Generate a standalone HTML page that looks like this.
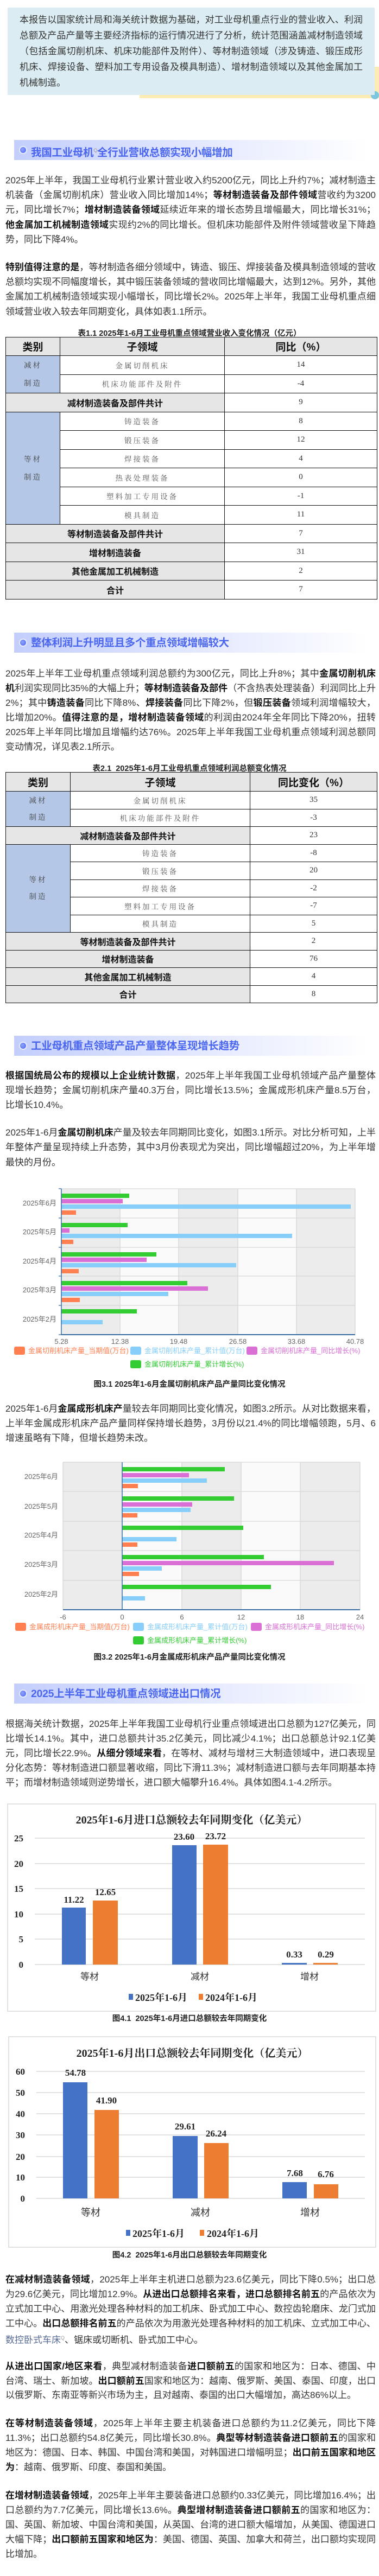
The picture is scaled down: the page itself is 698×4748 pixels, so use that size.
<!DOCTYPE html>
<html><head><meta charset="utf-8">
<style>
*{margin:0;padding:0;box-sizing:border-box}
body{width:698px;height:4748px;position:relative;background:#fff;font-family:"Liberation Sans","Noto Sans CJK SC",sans-serif;color:#333;overflow:hidden}
.l{position:absolute;left:10px;width:682px;height:27px;line-height:27px;font-size:17px;text-align:justify;text-align-last:justify;overflow:hidden}
b{color:#111;font-weight:bold}
.il{position:absolute;left:36px;width:632px;height:29px;line-height:29px;font-size:17px;text-align:justify;text-align-last:justify;color:#333}
.e{text-align-last:left !important}
.h{position:absolute;left:26px;width:652px;height:37px;background:linear-gradient(90deg,#c3cefc 0%,#dfe5fd 45%,#f3f5ff 80%,#fff 100%)}
.h .d{position:absolute;left:11px;top:13px;width:11px;height:11px;border-radius:50%;background:radial-gradient(circle at 40% 40%,#8fa3ff,#4a64f0);box-shadow:0 0 0 2px #e9edff}
.h .t{position:absolute;left:31px;top:0;line-height:39px;font-size:19.5px;font-weight:bold;color:#4a66ee;letter-spacing:-0.3px}
.cap{position:absolute;left:0;width:698px;text-align:center;font-weight:bold;color:#222;font-size:14.5px}
table{position:absolute;border-collapse:collapse;left:10px;table-layout:fixed}
td{border:1.3px solid #111;text-align:center;vertical-align:middle;padding:0}
.hd td{background:#e6e6e6;font-weight:bold;font-size:19px;color:#111}
.sg{font-family:"Liberation Serif","Noto Serif CJK SC",serif;color:#555;font-size:13.5px;letter-spacing:3px}
.nv{font-family:"Liberation Serif",serif;font-size:15px;color:#333}
.cat{background:#b4c7e7;font-family:"Liberation Serif","Noto Serif CJK SC",serif;color:#444;font-size:13.5px;letter-spacing:3px}
.gr{background:#e6e6e6;font-weight:bold;font-size:16px;color:#111}
svg text{font-family:"Liberation Sans","Noto Sans CJK SC",sans-serif}
.sf{font-family:"Liberation Serif","Noto Serif CJK SC",serif !important;font-weight:bold}
</style></head><body>

<div style="position:absolute;left:257px;top:123px;width:441px;height:58px;background:#fcecb4"></div>
<div style="position:absolute;left:683px;top:168px;width:15px;height:15px;border-radius:50%;background:#7cc6df"></div>
<div style="position:absolute;left:14px;top:14px;width:676px;height:161px;background:#dbedf3"></div>
<div class="il" style="top:22px">本报告以国家统计局和海关统计数据为基础，对工业母机重点行业的营业收入、利润</div>
<div class="il" style="top:51px">总额及产品产量等主要经济指标的运行情况进行了分析，统计范围涵盖减材制造领域</div>
<div class="il" style="top:80px">（包括金属切削机床、机床功能部件及附件）、等材制造领域（涉及铸造、锻压成形</div>
<div class="il" style="top:109px">机床、焊接设备、塑料加工专用设备及模具制造）、增材制造领域以及其他金属加工</div>
<div class="il e" style="top:138px">机械制造。</div>

<div class="h" style="top:258px"><div class="d"></div><div class="t">我国工业母机<sup style="font-size:9px;color:#999;font-weight:normal">Q</sup>全行业营收总额实现小幅增加</div></div>

<div class="l" style="top:319px">2025年上半年，我国工业母机行业累计营业收入约5200亿元，同比上升约7%；减材制造主</div>
<div class="l" style="top:346px">机装备（金属切削机床）营业收入同比增加14%；<b>等材制造装备及部件领域</b>营收约为3200亿</div>
<div class="l" style="top:373px">元，同比增长7%；<b>增材制造装备领域</b>延续近年来的增长态势且增幅最大，同比增长31%；<b>其</b></div>
<div class="l" style="top:401px"><b>他金属加工机械制造领域</b>实现约2%的同比增长。但机床功能部件及附件领域营收呈下降趋</div>
<div class="l e" style="top:428px">势，同比下降4%。</div>

<div class="l" style="top:479px"><b>特别值得注意的是</b>，等材制造各细分领域中，铸造、锻压、焊接装备及模具制造领域的营收</div>
<div class="l" style="top:506px">总额均实现不同幅度增长，其中锻压装备领域的营收同比增幅最大，达到12%。另外，其他</div>
<div class="l" style="top:533px">金属加工机械制造领域实现小幅增长，同比增长2%。2025年上半年，我国工业母机重点细分</div>
<div class="l e" style="top:561px">领域营业收入较去年同期变化，具体如表1.1所示。</div>

<div class="cap" style="top:603px">表1.1 2025年1-6月工业母机重点领域营业收入变化情况（亿元）</div>
<table style="top:621px;width:684px">
<colgroup><col style="width:100px"><col style="width:303px"><col style="width:281px"></colgroup>
<tr class="hd" style="height:34px"><td>类别</td><td>子领域</td><td>同比（%）</td></tr>
<tr style="height:34.5px"><td class="cat" rowspan="2" style="line-height:33px">减材<br>制造</td><td class="sg">金属切削机床</td><td class="nv">14</td></tr>
<tr style="height:34.5px"><td class="sg">机床功能部件及附件</td><td class="nv">-4</td></tr>
<tr style="height:34.5px"><td class="gr" colspan="2">减材制造装备及部件共计</td><td class="nv">9</td></tr>
<tr style="height:34.5px"><td class="cat" rowspan="6" style="line-height:33px">等材<br>制造</td><td class="sg">铸造装备</td><td class="nv">8</td></tr>
<tr style="height:34.5px"><td class="sg">锻压装备</td><td class="nv">12</td></tr>
<tr style="height:34.5px"><td class="sg">焊接装备</td><td class="nv">4</td></tr>
<tr style="height:34.5px"><td class="sg">热表处理装备</td><td class="nv">0</td></tr>
<tr style="height:34.5px"><td class="sg">塑料加工专用设备</td><td class="nv">-1</td></tr>
<tr style="height:34.5px"><td class="sg">模具制造</td><td class="nv">11</td></tr>
<tr style="height:34.5px"><td class="gr" colspan="2">等材制造装备及部件共计</td><td class="nv">7</td></tr>
<tr style="height:34.5px"><td class="gr" colspan="2">增材制造装备</td><td class="nv">31</td></tr>
<tr style="height:34.5px"><td class="gr" colspan="2">其他金属加工机械制造</td><td class="nv">2</td></tr>
<tr style="height:34.5px"><td class="gr" colspan="2">合计</td><td class="nv">7</td></tr>
</table>

<div class="h" style="top:1166px"><div class="d"></div><div class="t">整体利润上升明显且多个重点领域增幅较大</div></div>

<div class="l" style="top:1228px">2025年上半年工业母机重点领域利润总额约为300亿元，同比上升8%；其中<b>金属切削机床主</b></div>
<div class="l" style="top:1255px"><b>机</b>利润实现同比35%的大幅上升；<b>等材制造装备及部件</b>（不含热表处理装备）利润同比上升</div>
<div class="l" style="top:1282px">2%；其中<b>铸造装备</b>同比下降8%、<b>焊接装备</b>同比下降2%，但<b>锻压装备</b>领域利润增幅较大，同</div>
<div class="l" style="top:1309px">比增加20%。<b>值得注意的是，增材制造装备领域</b>的利润由2024年全年同比下降20%，扭转为</div>
<div class="l" style="top:1336px">2025年上半年同比增加且增幅约达76%。2025年上半年我国工业母机重点领域利润总额同比</div>
<div class="l e" style="top:1363px">变动情况，详见表2.1所示。</div>

<div class="cap" style="top:1405px">表2.1&nbsp; 2025年1-6月工业母机重点领域利润总额变化情况</div>
<table style="top:1423px;width:684px">
<colgroup><col style="width:119px"><col style="width:331px"><col style="width:234px"></colgroup>
<tr class="hd" style="height:35px"><td>类别</td><td>子领域</td><td>同比变化（%）</td></tr>
<tr style="height:32.5px"><td class="cat" rowspan="2" style="line-height:31px">减材<br>制造</td><td class="sg">金属切削机床</td><td class="nv">35</td></tr>
<tr style="height:32.5px"><td class="sg">机床功能部件及附件</td><td class="nv">-3</td></tr>
<tr style="height:32.5px"><td class="gr" colspan="2">减材制造装备及部件共计</td><td class="nv">23</td></tr>
<tr style="height:32.5px"><td class="cat" rowspan="5" style="line-height:31px">等材<br>制造</td><td class="sg">铸造装备</td><td class="nv">-8</td></tr>
<tr style="height:32.5px"><td class="sg">锻压装备</td><td class="nv">20</td></tr>
<tr style="height:32.5px"><td class="sg">焊接装备</td><td class="nv">-2</td></tr>
<tr style="height:32.5px"><td class="sg">塑料加工专用设备</td><td class="nv">-7</td></tr>
<tr style="height:32.5px"><td class="sg">模具制造</td><td class="nv">5</td></tr>
<tr style="height:32.5px"><td class="gr" colspan="2">等材制造装备及部件共计</td><td class="nv">2</td></tr>
<tr style="height:32.5px"><td class="gr" colspan="2">增材制造装备</td><td class="nv">76</td></tr>
<tr style="height:32.5px"><td class="gr" colspan="2">其他金属加工机械制造</td><td class="nv">4</td></tr>
<tr style="height:32.5px"><td class="gr" colspan="2">合计</td><td class="nv">8</td></tr>
</table>

<div class="h" style="top:1909px"><div class="d"></div><div class="t">工业母机重点领域产品产量整体呈现增长趋势</div></div>

<div class="l" style="top:1969px"><b>根据国统局公布的规模以上企业统计数据</b>，2025年上半年我国工业母机领域产品产量整体呈</div>
<div class="l" style="top:1996px">现增长趋势；金属切削机床产量40.3万台，同比增长13.5%；金属成形机床产量8.5万台，同</div>
<div class="l e" style="top:2023px">比增长10.4%。</div>

<div class="l" style="top:2074px">2025年1-6月<b>金属切削机床</b>产量及较去年同期同比变化，如图3.1所示。对比分析可知，上半</div>
<div class="l" style="top:2101px">年整体产量呈现持续上升态势，其中3月份表现尤为突出，同比增幅超过20%，为上半年增长</div>
<div class="l e" style="top:2129px">最快的月份。</div>

<div class="cap" style="top:2540px">图3.1 2025年1-6月金属切削机床产品产量同比变化情况</div>

<div class="l" style="top:2583px">2025年1-6月<b>金属成形机床产</b>量较去年同期同比变化情况，如图3.2所示。从对比数据来看，</div>
<div class="l" style="top:2610px">上半年金属成形机床产品产量同样保持增长趋势，3月份以21.4%的同比增幅领跑，5月、6月</div>
<div class="l e" style="top:2637px">增速虽略有下降，但增长趋势未改。</div>

<div class="cap" style="top:3043px">图3.2 2025年1-6月金属成形机床产品产量同比变化情况</div>

<div class="h" style="top:3103px"><div class="d"></div><div class="t">2025上半年工业母机重点领域进出口情况</div></div>

<div class="l" style="top:3164px">根据海关统计数据，2025年上半年我国工业母机行业重点领域进出口总额为127亿美元，同</div>
<div class="l" style="top:3191px">比增长14.1%。其中，进口总额共计35.2亿美元，同比减少4.1%；出口总额总计92.1亿美</div>
<div class="l" style="top:3218px">元，同比增长22.9%。<b>从细分领域来看</b>，在等材、减材与增材三大制造领域中，进口表现呈</div>
<div class="l" style="top:3245px">分化态势：等材制造进口额显著收缩，同比下滑11.3%；减材制造进口额与去年同期基本持</div>
<div class="l e" style="top:3272px">平；而增材制造领域则逆势增长，进口额大幅攀升16.4%。具体如图4.1-4.2所示。</div>

<div class="cap" style="top:3709px">图4.1&nbsp; 2025年1-6月进口总额较去年同期变化</div>
<div class="cap" style="top:4145px">图4.2&nbsp; 2025年1-6月出口总额较去年同期变化</div>

<div class="l" style="top:4188px"><b>在减材制造装备领域</b>，2025年上半年主机进口总额为23.6亿美元，同比下降0.5%；出口总额</div>
<div class="l" style="top:4215px">为29.6亿美元，同比增加12.9%。<b>从进出口总额排名来看，进口总额排名前五</b>的产品依次为</div>
<div class="l" style="top:4242px">立式加工中心、用激光处理各种材料的加工机床、卧式加工中心、数控齿轮磨床、龙门式加</div>
<div class="l" style="top:4269px">工中心。<b>出口总额排名前五</b>的产品依次为用激光处理各种材料的加工机床、立式加工中心、</div>
<div class="l e" style="top:4296px"><span style="color:#576b95">数控卧式车床</span><sup style="font-size:9px;color:#999">Q</sup>、锯床或切断机、卧式加工中心。</div>

<div class="l" style="top:4348px"><b>从进出口国家/地区来看</b>，典型减材制造装备<b>进口额前五</b>的国家和地区为：日本、德国、中国</div>
<div class="l" style="top:4375px">台湾、瑞士、新加坡。<b>出口额前五</b>国家和地区为：越南、俄罗斯、美国、泰国、印度，出口</div>
<div class="l e" style="top:4401px">以俄罗斯、东南亚等新兴市场为主，且对越南、泰国的出口大幅增加，高达86%以上。</div>

<div class="l" style="top:4453px"><b>在等材制造装备领域</b>，2025年上半年主要主机装备进口总额约为11.2亿美元，同比下降</div>
<div class="l" style="top:4480px">11.3%；出口总额约54.8亿美元，同比增长30.8%。<b>典型等材制造装备进口额前五</b>的国家和</div>
<div class="l" style="top:4507px">地区为：德国、日本、韩国、中国台湾和美国，对韩国进口增幅明显；<b>出口前五国家和地区</b></div>
<div class="l e" style="top:4534px"><b>为</b>：越南、俄罗斯、印度、泰国和美国。</div>

<div class="l" style="top:4586px"><b>在增材制造装备领域</b>，2025年上半年主要装备进口总额约0.33亿美元，同比增加16.4%；出</div>
<div class="l" style="top:4613px">口总额约为7.7亿美元，同比增长13.6%。<b>典型增材制造装备进口额前五</b>的国家和地区为：德</div>
<div class="l" style="top:4640px">国、英国、新加坡、中国台湾和美国，从英国、台湾的进口额大幅增加，从美国、德国进口</div>
<div class="l" style="top:4667px">大幅下降；<b>出口额前五国家和地区为</b>：美国、德国、英国、加拿大和荷兰，出口额均实现同</div>
<div class="l e" style="top:4694px">比增加。</div>

<svg style="position:absolute;left:0;top:0" width="698" height="4748" xmlns="http://www.w3.org/2000/svg">
<g>
<rect x="113" y="2191" width="108" height="269" fill="#ececec"/>
<rect x="221" y="2191" width="108" height="269" fill="#fafafa"/>
<rect x="329" y="2191" width="109" height="269" fill="#ececec"/>
<rect x="438" y="2191" width="108" height="269" fill="#fafafa"/>
<rect x="546" y="2191" width="108" height="269" fill="#ececec"/>
<g stroke="#d6d6d6" stroke-width="1.3">
<line x1="113" y1="2191" x2="654" y2="2191"/><line x1="113" y1="2245" x2="654" y2="2245"/><line x1="113" y1="2299" x2="654" y2="2299"/><line x1="113" y1="2352" x2="654" y2="2352"/><line x1="113" y1="2406" x2="654" y2="2406"/>
<line x1="221" y1="2191" x2="221" y2="2460"/><line x1="329" y1="2191" x2="329" y2="2460"/><line x1="438" y1="2191" x2="438" y2="2460"/><line x1="546" y1="2191" x2="546" y2="2460"/><line x1="654" y1="2191" x2="654" y2="2460"/>
</g>
<g fill="#33cc33"><rect x="113" y="2200" width="125" height="8"/><rect x="113" y="2254" width="122" height="8"/><rect x="113" y="2308" width="175" height="8"/><rect x="113" y="2361" width="232" height="8"/><rect x="113" y="2413" width="139" height="8"/></g>
<g fill="#da70d6"><rect x="113" y="2210" width="113" height="8"/><rect x="113" y="2264" width="15" height="8"/><rect x="113" y="2318" width="157" height="8"/><rect x="113" y="2371" width="270" height="8"/></g>
<g fill="#87cefa"><rect x="113" y="2220" width="533" height="8"/><rect x="113" y="2274" width="425" height="8"/><rect x="113" y="2328" width="322" height="8"/><rect x="113" y="2381" width="197" height="8"/><rect x="113" y="2433" width="76" height="8"/></g>
<g fill="#ff7f50"><rect x="113" y="2231" width="27" height="8"/><rect x="113" y="2285" width="22" height="8"/><rect x="113" y="2339" width="32" height="8"/><rect x="113" y="2392" width="34" height="8"/></g>
<line x1="113" y1="2191" x2="113" y2="2460" stroke="#3a6ea5" stroke-width="1.5"/>
<line x1="113" y1="2460" x2="654" y2="2460" stroke="#3a6ea5" stroke-width="2"/>
<g stroke="#3a6ea5" stroke-width="1.3"><line x1="108" y1="2191" x2="113" y2="2191"/><line x1="108" y1="2245" x2="113" y2="2245"/><line x1="108" y1="2299" x2="113" y2="2299"/><line x1="108" y1="2352" x2="113" y2="2352"/><line x1="108" y1="2406" x2="113" y2="2406"/><line x1="108" y1="2460" x2="113" y2="2460"/></g>
<g font-size="13" fill="#666" text-anchor="end"><text x="104" y="2222">2025年6月</text><text x="104" y="2275">2025年5月</text><text x="104" y="2329">2025年4月</text><text x="104" y="2382">2025年3月</text><text x="104" y="2436">2025年2月</text></g>
<g font-size="13" fill="#666" text-anchor="middle"><text x="113" y="2477">5.28</text><text x="221" y="2477">12.38</text><text x="329" y="2477">19.48</text><text x="438" y="2477">26.58</text><text x="546" y="2477">33.68</text><text x="654" y="2477">40.78</text></g>
<rect x="26" y="2482" width="20" height="15" rx="3" fill="#ff7f50"/><text x="52" y="2494" font-size="13" fill="#ff7f50">金属切削机床产量_当期值(万台)</text>
<rect x="240" y="2482" width="20" height="15" rx="3" fill="#87cefa"/><text x="266" y="2494" font-size="13" fill="#87cefa">金属切削机床产量_累计值(万台)</text>
<rect x="454" y="2482" width="20" height="15" rx="3" fill="#da70d6"/><text x="480" y="2494" font-size="13" fill="#da70d6">金属切削机床产量_同比增长(%)</text>
<rect x="240" y="2507" width="20" height="15" rx="3" fill="#33cc33"/><text x="266" y="2519" font-size="13" fill="#33cc33">金属切削机床产量_累计增长(%)</text>
</g>

<g>
<rect x="116" y="2695" width="109" height="272" fill="#ececec"/>
<rect x="225" y="2695" width="110" height="272" fill="#fafafa"/>
<rect x="335" y="2695" width="109" height="272" fill="#ececec"/>
<rect x="444" y="2695" width="109" height="272" fill="#fafafa"/>
<rect x="553" y="2695" width="110" height="272" fill="#ececec"/>
<g stroke="#d6d6d6" stroke-width="1.3">
<line x1="116" y1="2695" x2="663" y2="2695"/><line x1="116" y1="2749" x2="663" y2="2749"/><line x1="116" y1="2804" x2="663" y2="2804"/><line x1="116" y1="2858" x2="663" y2="2858"/><line x1="116" y1="2913" x2="663" y2="2913"/>
<line x1="116" y1="2695" x2="116" y2="2967"/><line x1="335" y1="2695" x2="335" y2="2967"/><line x1="444" y1="2695" x2="444" y2="2967"/><line x1="553" y1="2695" x2="553" y2="2967"/><line x1="663" y1="2695" x2="663" y2="2967"/>
</g>
<g fill="#33cc33"><rect x="225" y="2704" width="189" height="8"/><rect x="225" y="2758" width="206" height="8"/><rect x="225" y="2812" width="223" height="8"/><rect x="225" y="2866" width="261" height="8"/><rect x="225" y="2921" width="274" height="8"/></g>
<g fill="#da70d6"><rect x="225" y="2715" width="123" height="8"/><rect x="225" y="2769" width="129" height="8"/><rect x="225" y="2877" width="390" height="8"/></g>
<g fill="#87cefa"><rect x="225" y="2725" width="156" height="8"/><rect x="225" y="2779" width="126" height="8"/><rect x="225" y="2833" width="100" height="8"/><rect x="225" y="2887" width="73" height="8"/><rect x="225" y="2942" width="42" height="8"/></g>
<g fill="#ff7f50"><rect x="225" y="2735" width="29" height="8"/><rect x="225" y="2789" width="28" height="8"/><rect x="225" y="2843" width="28" height="8"/><rect x="225" y="2897" width="31" height="8"/></g>
<line x1="225" y1="2695" x2="225" y2="2967" stroke="#3a6ea5" stroke-width="1.5"/>
<line x1="116" y1="2967" x2="663" y2="2967" stroke="#3a6ea5" stroke-width="2"/>
<g font-size="13" fill="#666" text-anchor="end"><text x="107" y="2726">2025年6月</text><text x="107" y="2781">2025年5月</text><text x="107" y="2834">2025年4月</text><text x="107" y="2888">2025年3月</text><text x="107" y="2943">2025年2月</text></g>
<g font-size="13" fill="#666" text-anchor="middle"><text x="116" y="2985">-6</text><text x="225" y="2985">0</text><text x="335" y="2985">6</text><text x="444" y="2985">12</text><text x="553" y="2985">18</text><text x="663" y="2985">24</text></g>
<rect x="28" y="2991" width="20" height="15" rx="3" fill="#ff7f50"/><text x="54" y="3003" font-size="13" fill="#ff7f50">金属成形机床产量_当期值(万台)</text>
<rect x="245" y="2991" width="20" height="15" rx="3" fill="#87cefa"/><text x="271" y="3003" font-size="13" fill="#87cefa">金属成形机床产量_累计值(万台)</text>
<rect x="462" y="2991" width="20" height="15" rx="3" fill="#da70d6"/><text x="488" y="3003" font-size="13" fill="#da70d6">金属成形机床产量_同比增长(%)</text>
<rect x="245" y="3016" width="20" height="15" rx="3" fill="#33cc33"/><text x="271" y="3028" font-size="13" fill="#33cc33">金属成形机床产量_累计增长(%)</text>
</g>

<g>
<rect x="14" y="3325" width="678" height="382" fill="#fff" stroke="#d9d9d9" stroke-width="1.5"/>
<text class="sf" x="353" y="3361" font-size="20" fill="#222" text-anchor="middle">2025年1-6月进口总额较去年同期变化（亿美元）</text>
<g stroke="#d9d9d9" stroke-width="1.5"><line x1="64" y1="3388" x2="672" y2="3388"/><line x1="64" y1="3435" x2="672" y2="3435"/><line x1="64" y1="3481" x2="672" y2="3481"/><line x1="64" y1="3528" x2="672" y2="3528"/><line x1="64" y1="3574" x2="672" y2="3574"/><line x1="64" y1="3621" x2="672" y2="3621"/></g>
<g font-size="17" fill="#222" text-anchor="end"><text class="sf" x="43" y="3394">25</text><text class="sf" x="43" y="3441">20</text><text class="sf" x="43" y="3487">15</text><text class="sf" x="43" y="3534">10</text><text class="sf" x="43" y="3580">5</text><text class="sf" x="43" y="3627">0</text></g>
<g fill="#4472c4"><rect x="114" y="3516" width="44" height="105"/><rect x="317" y="3401" width="45" height="220"/><rect x="519" y="3618" width="46" height="3"/></g>
<g fill="#ed7d31"><rect x="171" y="3503" width="46" height="118"/><rect x="374" y="3400" width="46" height="221"/><rect x="577" y="3618" width="45" height="3"/></g>
<g font-size="17" fill="#222" text-anchor="middle"><text class="sf" x="136" y="3507">11.22</text><text class="sf" x="194" y="3493">12.65</text><text class="sf" x="339" y="3391">23.60</text><text class="sf" x="397" y="3390">23.72</text><text class="sf" x="542" y="3608">0.33</text><text class="sf" x="600" y="3608">0.29</text></g>
<g font-size="17" fill="#333" text-anchor="middle"><text x="165" y="3649" font-family="Liberation Serif,Noto Serif CJK SC,serif">等材</text><text x="368" y="3649" font-family="Liberation Serif,Noto Serif CJK SC,serif">减材</text><text x="570" y="3649" font-family="Liberation Serif,Noto Serif CJK SC,serif">增材</text></g>
<rect x="237" y="3675" width="8" height="11" fill="#4472c4"/><text class="sf" x="249" y="3688" font-size="18" fill="#222">2025年1-6月</text>
<rect x="366" y="3675" width="8" height="11" fill="#ed7d31"/><text class="sf" x="378" y="3688" font-size="18" fill="#222">2024年1-6月</text>
</g>

<g>
<rect x="16" y="3754" width="676" height="388" fill="#fff" stroke="#d9d9d9" stroke-width="1.5"/>
<text class="sf" x="354" y="3791" font-size="20" fill="#222" text-anchor="middle">2025年1-6月出口总额较去年同期变化（亿美元）</text>
<g stroke="#d9d9d9" stroke-width="1.5"><line x1="67" y1="3818" x2="672" y2="3818"/><line x1="67" y1="3857" x2="672" y2="3857"/><line x1="67" y1="3896" x2="672" y2="3896"/><line x1="67" y1="3935" x2="672" y2="3935"/><line x1="67" y1="3975" x2="672" y2="3975"/><line x1="67" y1="4013" x2="672" y2="4013"/><line x1="67" y1="4052" x2="672" y2="4052"/></g>
<g font-size="17" fill="#222" text-anchor="end"><text class="sf" x="46" y="3824">60</text><text class="sf" x="46" y="3863">50</text><text class="sf" x="46" y="3902">40</text><text class="sf" x="46" y="3941">30</text><text class="sf" x="46" y="3981">20</text><text class="sf" x="46" y="4019">10</text><text class="sf" x="46" y="4058">0</text></g>
<g fill="#4472c4"><rect x="116" y="3838" width="45" height="214"/><rect x="318" y="3937" width="46" height="115"/><rect x="520" y="4022" width="45" height="30"/></g>
<g fill="#ed7d31"><rect x="174" y="3889" width="45" height="163"/><rect x="376" y="3950" width="45" height="102"/><rect x="578" y="4026" width="45" height="26"/></g>
<g font-size="17" fill="#222" text-anchor="middle"><text class="sf" x="139" y="3826">54.78</text><text class="sf" x="196" y="3877">41.90</text><text class="sf" x="341" y="3925">29.61</text><text class="sf" x="398" y="3938">26.24</text><text class="sf" x="543" y="4011">7.68</text><text class="sf" x="600" y="4013">6.76</text></g>
<g font-size="18" fill="#333" text-anchor="middle"><text x="167" y="4084" font-family="Liberation Serif,Noto Serif CJK SC,serif">等材</text><text x="369" y="4084" font-family="Liberation Serif,Noto Serif CJK SC,serif">减材</text><text x="571" y="4084" font-family="Liberation Serif,Noto Serif CJK SC,serif">增材</text></g>
<rect x="232" y="4110" width="8" height="11" fill="#4472c4"/><text class="sf" x="244" y="4123" font-size="18" fill="#222">2025年1-6月</text>
<rect x="368" y="4110" width="8" height="11" fill="#ed7d31"/><text class="sf" x="381" y="4123" font-size="18" fill="#222">2024年1-6月</text>
</g>
</svg>
</body></html>
